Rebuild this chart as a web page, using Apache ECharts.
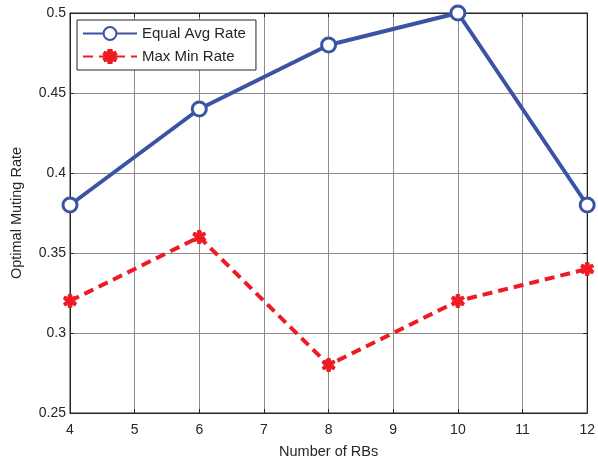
<!DOCTYPE html>
<html><head><meta charset="utf-8">
<script src="https://cdn.jsdelivr.net/npm/echarts@6/dist/echarts.min.js"></script>
<style>html,body{margin:0;padding:0;background:#fff}#c{width:598px;height:464px}</style>
</head><body><div id="c"></div>
<script>
const xValues = [4, 6, 8, 10, 12];
const equalAvgRate = [0.38, 0.44, 0.48, 0.50, 0.38];
const maxMinRate = [0.32, 0.36, 0.28, 0.32, 0.34];
const xTicks = [4,5,6,7,8,9,10,11,12];
const yTicks = [0.25,0.3,0.35,0.4,0.45,0.5];

const chart = echarts.init(document.getElementById('c'));
const font = 'Liberation Sans, Arial, sans-serif';
const axisText = {color:'#262626', fontFamily:font, fontSize:14};
const blobPath = 'path://M-2,-9 L2,-9 L2.5,-5 L6.5,-6.5 L8,-3 L5,-1 L8,3 L6.5,6.5 L2.5,5 L2,9 L-2,9 L-2.5,5 L-6.5,6.5 L-8,3 L-5,1 L-8,-3 L-6.5,-6.5 L-2.5,-5 Z';
chart.setOption({
  animation:false,
  grid:{left:70, right:6, top:13, bottom:50, show:true, borderColor:'#262626', borderWidth:1},
  legend:{
    left:77, top:20, orient:'vertical', backgroundColor:'#fff',
    borderColor:'#262626', borderWidth:1, padding:[6,10,6,5], itemGap:8,
    itemWidth:54, itemHeight:16,
    textStyle:{color:'#262626', fontFamily:font, fontSize:15},
    data:['Equal Avg Rate','Max Min Rate']
  },
  xAxis:[{
    type:'value', min:4, max:12, interval:1,
    name:'Number of RBs', nameLocation:'middle', nameGap:31,
    nameTextStyle:{color:'#262626', fontFamily:font, fontSize:14.5},
    axisLine:{lineStyle:{color:'#262626'}},
    axisTick:{inside:true, length:4, lineStyle:{color:'#262626'}},
    axisLabel:Object.assign({margin:10}, axisText),
    splitLine:{show:true, lineStyle:{color:'#8c8c8c', width:1}}
  },{
    type:'value', position:'top', min:4, max:12, interval:1,
    axisLine:{show:true, lineStyle:{color:'#262626'}},
    axisTick:{show:true, inside:true, length:4, lineStyle:{color:'#262626'}},
    axisLabel:{show:false}, splitLine:{show:false}
  }],
  yAxis:[{
    type:'value', min:0.25, max:0.5, interval:0.05,
    name:'Optimal Muting Rate', nameLocation:'middle', nameGap:46,
    nameTextStyle:{color:'#262626', fontFamily:font, fontSize:14.5},
    axisLine:{show:true, lineStyle:{color:'#262626'}},
    axisTick:{show:true, inside:true, length:4, lineStyle:{color:'#262626'}},
    axisLabel:Object.assign({margin:4, formatter:v=>String(+v.toFixed(2))}, axisText),
    splitLine:{show:true, lineStyle:{color:'#8c8c8c', width:1}}
  },{
    type:'value', position:'right', min:0.25, max:0.5, interval:0.05,
    axisLine:{show:true, lineStyle:{color:'#262626'}},
    axisTick:{show:true, inside:true, length:4, lineStyle:{color:'#262626'}},
    axisLabel:{show:false}, splitLine:{show:false}
  }],
  series:[{
    name:'Equal Avg Rate', type:'line',
    data:xValues.map((x,i)=>[x,equalAvgRate[i]]),
    lineStyle:{color:'#3a53a4', width:4},
    itemStyle:{color:'#fff', borderColor:'#3a53a4', borderWidth:3},
    symbol:'circle', symbolSize:14, showAllSymbol:true, z:3
  },{
    name:'Max Min Rate', type:'line',
    data:xValues.map((x,i)=>[x,maxMinRate[i]]),
    lineStyle:{color:'#ed1c24', width:4, type:[10,6]},
    itemStyle:{color:'#ed1c24', borderColor:'#ed1c24', borderWidth:1},
    symbol:blobPath, symbolSize:13, showAllSymbol:true, z:2
  }]
});
</script></body></html>
